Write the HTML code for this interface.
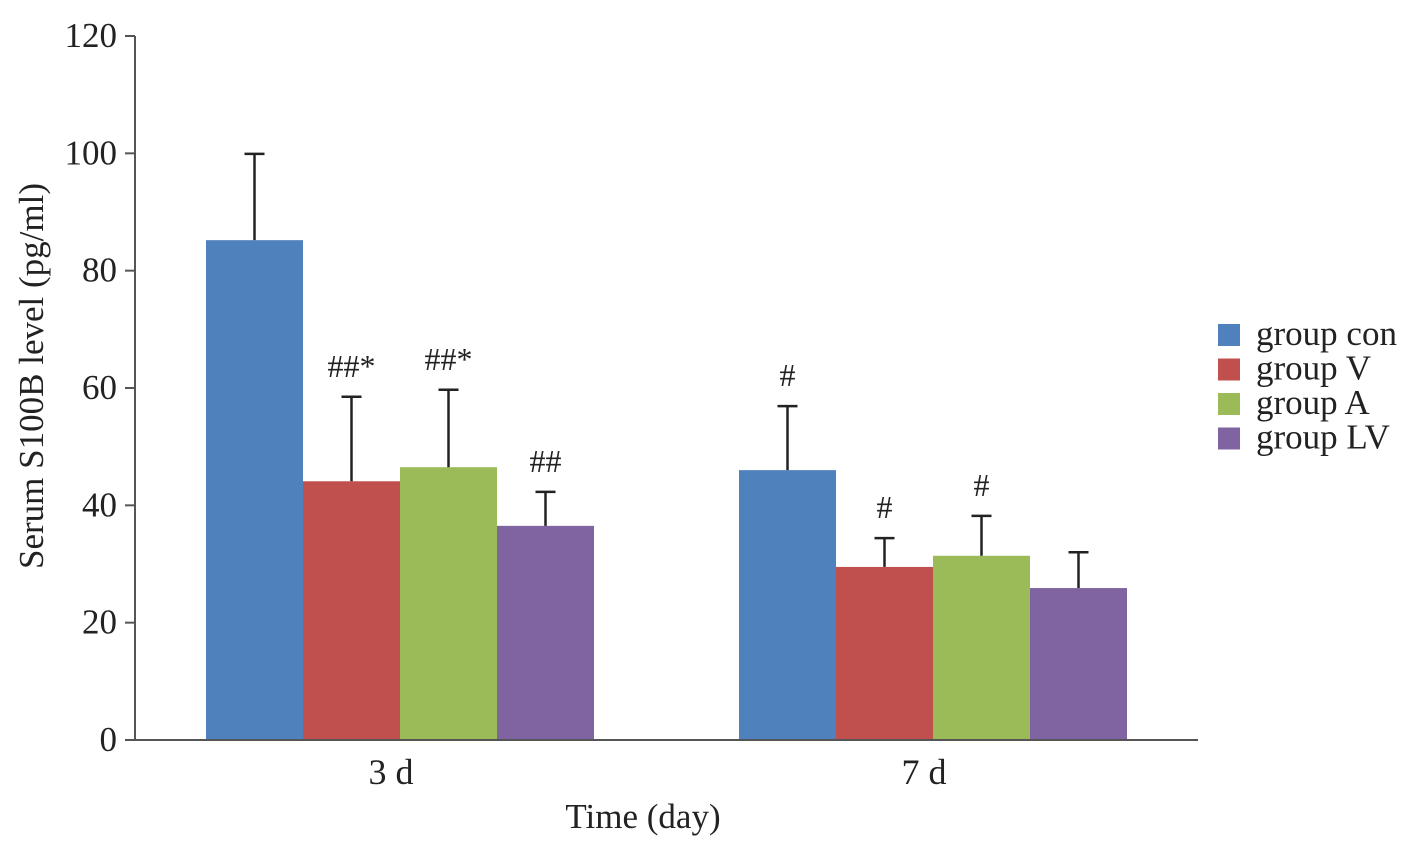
<!DOCTYPE html>
<html><head><meta charset="utf-8"><style>
body{margin:0;background:#fff}
text{font-family:"Liberation Serif",serif;fill:#222}
</style></head><body>
<svg id="chart" width="1417" height="856" xmlns="http://www.w3.org/2000/svg"></svg>
<script>
const groups=["3 d","7 d"];
const seriesNames=["group con","group V","group A","group LV"];
const colors=["#4f81bd","#c0504d","#9bbb59","#8064a2"];
const means=[[85.2,46.0],[44.1,29.5],[46.5,31.4],[36.5,25.9]];
const errs=[[14.7,10.9],[14.4,4.9],[13.2,6.8],[5.8,6.1]];
const marks=[["","#"],["##*","#"],["##*","#"],["##",""]];
const yTicks=[0,20,40,60,80,100,120];
const NS="http://www.w3.org/2000/svg";
const svg=document.getElementById('chart');
const y0=740,yTop=36,yMax=120;
const Y=v=>y0-(y0-yTop)*v/yMax;
const groupStart=[206,739],barW=97;
function el(t,a,txt){const e=document.createElementNS(NS,t);for(const k in a)e.setAttribute(k,a[k]);if(txt!==undefined)e.textContent=txt;svg.appendChild(e);return e;}
means.forEach((s,si)=>s.forEach((v,gi)=>{
 const x=groupStart[gi]+si*barW;
 const r=el('rect',{x:x,y:Y(v),width:barW,height:y0-Y(v),fill:colors[si]});
 
 
 const cx=x+barW/2,et=Y(v+errs[si][gi]);
 const l=el('path',{d:`M${cx} ${Y(v)}V${et}M${cx-10} ${et}H${cx+10}`,stroke:'#222','stroke-width':2.5,fill:'none'});
 
 
 if(marks[si][gi]){const t=el('text',{x:cx,y:et-20,'font-size':32,'text-anchor':'middle'},marks[si][gi]);
 
 }
}));
const ax=el('path',{d:`M135 ${yTop}V${y0}H1198`,stroke:'#555','stroke-width':2,fill:'none'});


yTicks.forEach(v=>{
 const tk=el('path',{d:`M125 ${Y(v)}H135`,stroke:'#555','stroke-width':2});
 
 
 const t=el('text',{x:117,y:Y(v)+11,'font-size':35,'text-anchor':'end'},v);
 
 
});
groups.forEach((g,gi)=>{
 const t=el('text',{x:groupStart[gi]+2*barW-9,y:784,'font-size':36,'text-anchor':'middle'},g);
 
 
});
let t=el('text',{x:643,y:828,'font-size':35,'text-anchor':'middle'},'Time (day)');


t=el('text',{x:0,y:0,'font-size':35,'text-anchor':'middle',transform:'translate(43,376) rotate(-90)'},'Serum S100B level  (pg/ml)');


seriesNames.forEach((n,i)=>{
 const yy=334+i*34.5;
 const r=el('rect',{x:1218,y:yy-10,width:22,height:22,fill:colors[i]});
 
 
 const lt=el('text',{x:1256,y:yy+11,'font-size':35},n);
 
 
});
</script>
</body></html>
